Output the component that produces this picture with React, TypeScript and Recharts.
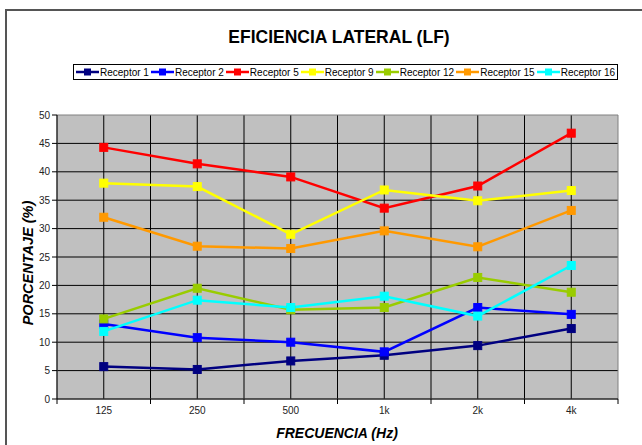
import React from 'react';
import { LineChart, Line, XAxis, YAxis, CartesianGrid, ReferenceArea } from 'recharts';

const categories = ['125', '250', '500', '1k', '2k', '4k'];
const receptor1 = [5.7, 5.2, 6.7, 7.7, 9.4, 12.4];
const receptor2 = [13.2, 10.8, 10.0, 8.3, 16.1, 14.9];
const receptor5 = [44.3, 41.4, 39.1, 33.6, 37.5, 46.8];
const receptor9 = [38.0, 37.4, 29.0, 36.8, 34.9, 36.7];
const receptor12 = [14.1, 19.5, 15.7, 16.1, 21.4, 18.8];
const receptor15 = [32.0, 26.9, 26.5, 29.6, 26.8, 33.2];
const receptor16 = [11.9, 17.4, 16.1, 18.1, 14.6, 23.5];
const yTicks = [0, 5, 10, 15, 20, 25, 30, 35, 40, 45, 50];

const seriesNames = ['Receptor 1', 'Receptor 2', 'Receptor 5', 'Receptor 9', 'Receptor 12', 'Receptor 15', 'Receptor 16'];
const seriesColors = ['#000080', '#0000FF', '#FF0000', '#FFFF00', '#99CC00', '#FF9900', '#00FFFF'];
const seriesValues = [receptor1, receptor2, receptor5, receptor9, receptor12, receptor15, receptor16];

const data = categories.map((c, i) => {
  const row: any = { idx: i, cat: c };
  seriesValues.forEach((vals, s) => {
    row['s' + s] = vals[i];
  });
  return row;
});

const xTicks: number[] = [];
for (let i = -1; i < categories.length; i++) {
  if (i >= 0) xTicks.push(i);
  xTicks.push(i + 0.5);
}
const gridX = xTicks.filter((v) => v > -0.5 && v < categories.length - 0.5);
const gridY = yTicks.filter((v) => v > 0 && v < 50);

const FONT = 'Arial, "Liberation Sans", sans-serif';

const XTick = (props: any) => {
  const { x, y, payload } = props;
  const v = payload.value;
  if (Number.isInteger(v)) {
    return (
      <text x={x} y={y + 15} textAnchor="middle" fontSize={10} fill="#222" fontFamily={FONT}>
        {categories[v]}
      </text>
    );
  }
  return <line x1={x} x2={x} y1={y} y2={y + 5} stroke="#000" strokeWidth={1} />;
};

const SquareDot = (props: any) => {
  const { cx, cy, stroke } = props;
  if (cx == null || cy == null) return null;
  return <rect x={cx - 4} y={cy - 4} width={8} height={8} fill={stroke} stroke={stroke} strokeWidth={1} />;
};

const LegendBox = () => (
  <div
    style={{
      position: 'absolute',
      left: 73,
      top: 64,
      display: 'flex',
      alignItems: 'center',
      border: '1px solid #000',
      background: '#fff',
      height: 14,
      padding: '0 2px 0 2px',
      fontSize: 10,
      fontFamily: FONT,
      color: '#000',
      whiteSpace: 'nowrap',
    }}
  >
    {seriesNames.map((name, i) => (
      <div key={name} style={{ display: 'flex', alignItems: 'center', marginRight: i < seriesNames.length - 1 ? 2 : 0 }}>
        <svg width={23} height={8} style={{ marginRight: 1 }}>
          <line x1={0} x2={23} y1={4} y2={4} stroke={seriesColors[i]} strokeWidth={2.5} />
          <rect x={8} y={0.5} width={7} height={7} fill={seriesColors[i]} />
        </svg>
        <span>{name}</span>
      </div>
    ))}
  </div>
);

export default function App() {
  return (
    <div style={{ position: 'absolute', left: 0, top: 0, width: 642, height: 445, background: '#fff', overflow: 'hidden' }}>
      <div
        style={{
          position: 'absolute',
          left: 5,
          top: 9,
          width: 660,
          height: 460,
          borderLeft: '2px solid #555',
          borderTop: '2px solid #555',
        }}
      />
      <div
        style={{
          position: 'absolute',
          left: 0,
          width: 678,
          top: 27,
          lineHeight: '20px',
          textAlign: 'center',
          fontFamily: FONT,
          fontWeight: 'bold',
          fontSize: 17.5,
          color: '#000',
        }}
      >
        EFICIENCIA LATERAL (LF)
      </div>
      <LineChart
        width={642}
        height={445}
        data={data}
        margin={{ top: 115, right: 24, left: 27, bottom: 16 }}
        style={{ position: 'absolute', left: 0, top: 0 }}
      >
        <CartesianGrid
          fill="#C0C0C0"
          stroke="#000"
          strokeWidth={1}
          horizontalValues={gridY}
          verticalValues={gridX}
        />
        <ReferenceArea x1={-0.5} x2={categories.length - 0.5} y1={0} y2={50} fill="none" stroke="#808080" strokeWidth={1} />
        <XAxis
          dataKey="idx"
          type="number"
          domain={[-0.5, categories.length - 0.5]}
          ticks={xTicks}
          interval={0}
          tickLine={false}
          tickSize={0}
          tickMargin={0}
          tick={<XTick />}
          axisLine={{ stroke: '#000', strokeWidth: 1 }}
          height={30}
        />
        <YAxis
          type="number"
          domain={[0, 50]}
          ticks={yTicks}
          interval={0}
          width={30}
          tickSize={5}
          tickMargin={2}
          tickLine={{ stroke: '#000' }}
          axisLine={{ stroke: '#000', strokeWidth: 1 }}
          tick={{ fontSize: 10, fill: '#222', fontFamily: FONT }}
        />
        {seriesNames.map((name, s) => (
          <Line
            key={name}
            type="linear"
            dataKey={'s' + s}
            name={name}
            stroke={seriesColors[s]}
            strokeWidth={2.5}
            dot={<SquareDot />}
            activeDot={false}
            isAnimationActive={false}
          />
        ))}
      </LineChart>
      <LegendBox />
      <div
        style={{
          position: 'absolute',
          left: 0,
          width: 674,
          top: 425,
          lineHeight: '16px',
          textAlign: 'center',
          fontFamily: FONT,
          fontWeight: 'bold',
          fontStyle: 'italic',
          fontSize: 14,
          color: '#000',
        }}
      >
        FRECUENCIA (Hz)
      </div>
      <div
        style={{
          position: 'absolute',
          left: 28,
          top: 263,
          lineHeight: '16px',
          transform: 'translate(-50%, -50%) rotate(-90deg)',
          fontFamily: FONT,
          fontWeight: 'bold',
          fontStyle: 'italic',
          fontSize: 14.5,
          color: '#000',
          whiteSpace: 'nowrap',
        }}
      >
        PORCENTAJE (%)
      </div>
    </div>
  );
}
